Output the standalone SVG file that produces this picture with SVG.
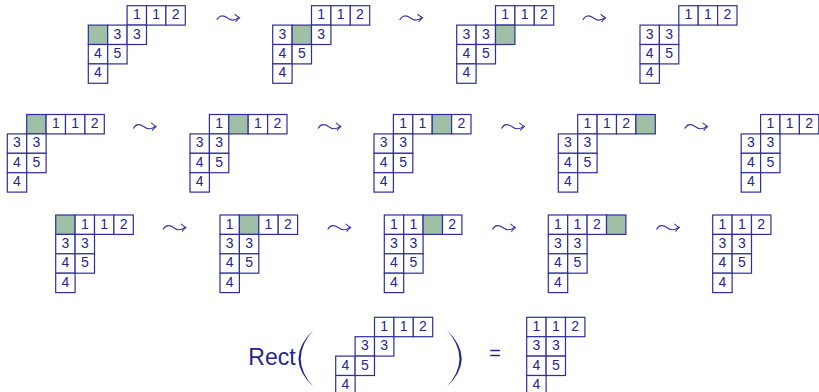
<svg xmlns="http://www.w3.org/2000/svg" xmlns:xlink="http://www.w3.org/1999/xlink" width="819" height="392" viewBox="0 0 819 392">
<style>
.c{fill:#ffffff;stroke:#2e2e9e;stroke-width:1.2}
.g{fill:#9fc0a6;stroke:#2e2e9e;stroke-width:1.2}
.d{font-family:"Liberation Sans",Arial,sans-serif;font-size:14px;fill:#26268f;text-anchor:middle}
.lt{fill:none;stroke:#3a3aa6;stroke-width:1.1;stroke-linecap:round;stroke-linejoin:round}
.big{font-family:"Liberation Sans",Arial,sans-serif;fill:#26268f}
</style>
<defs>
<g id="leadsto">
<path class="lt" d="M0,1.5 C2.5,-3 6.5,-3 10.5,0 S17.5,3.2 21.5,-0.3"/>
<path class="lt" d="M18,-3.5 Q20.5,-1.2 22.8,-0.3 Q20.5,0.8 19,3.6"/>
</g>
</defs>

<g id="connectors">
<use xlink:href="#leadsto" x="217" y="18"/>
<use xlink:href="#leadsto" x="400" y="18"/>
<use xlink:href="#leadsto" x="583" y="18"/>
<use xlink:href="#leadsto" x="133.5" y="126.7"/>
<use xlink:href="#leadsto" x="318.3" y="126.7"/>
<use xlink:href="#leadsto" x="501.7" y="126.7"/>
<use xlink:href="#leadsto" x="685" y="126.7"/>
<use xlink:href="#leadsto" x="163.3" y="227.7"/>
<use xlink:href="#leadsto" x="328" y="227.7"/>
<use xlink:href="#leadsto" x="492.7" y="227.7"/>
<use xlink:href="#leadsto" x="656.7" y="227.7"/>
</g>

<!-- Row 1 -->
<g id="t1" transform="translate(88.3,5.7)">
<rect class="c" x="38.8" y="0" width="19.4" height="19.4"/><rect class="c" x="58.2" y="0" width="19.4" height="19.4"/><rect class="c" x="77.6" y="0" width="19.4" height="19.4"/>
<rect class="g" x="0" y="19.4" width="19.4" height="19.4"/><rect class="c" x="19.4" y="19.4" width="19.4" height="19.4"/><rect class="c" x="38.8" y="19.4" width="19.4" height="19.4"/>
<rect class="c" x="0" y="38.8" width="19.4" height="19.4"/><rect class="c" x="19.4" y="38.8" width="19.4" height="19.4"/>
<rect class="c" x="0" y="58.2" width="19.4" height="19.4"/>
<text class="d" x="48.5" y="13.5">1</text><text class="d" x="67.9" y="13.5">1</text><text class="d" x="87.3" y="13.5">2</text>
<text class="d" x="29.1" y="32.9">3</text><text class="d" x="48.5" y="32.9">3</text>
<text class="d" x="9.7" y="52.3">4</text><text class="d" x="29.1" y="52.3">5</text>
<text class="d" x="9.7" y="71.7">4</text>
</g>
<g id="t2" transform="translate(272.7,5.7)">
<rect class="c" x="38.8" y="0" width="19.4" height="19.4"/><rect class="c" x="58.2" y="0" width="19.4" height="19.4"/><rect class="c" x="77.6" y="0" width="19.4" height="19.4"/>
<rect class="c" x="0" y="19.4" width="19.4" height="19.4"/><rect class="g" x="19.4" y="19.4" width="19.4" height="19.4"/><rect class="c" x="38.8" y="19.4" width="19.4" height="19.4"/>
<rect class="c" x="0" y="38.8" width="19.4" height="19.4"/><rect class="c" x="19.4" y="38.8" width="19.4" height="19.4"/>
<rect class="c" x="0" y="58.2" width="19.4" height="19.4"/>
<text class="d" x="48.5" y="13.5">1</text><text class="d" x="67.9" y="13.5">1</text><text class="d" x="87.3" y="13.5">2</text>
<text class="d" x="9.7" y="32.9">3</text><text class="d" x="48.5" y="32.9">3</text>
<text class="d" x="9.7" y="52.3">4</text><text class="d" x="29.1" y="52.3">5</text>
<text class="d" x="9.7" y="71.7">4</text>
</g>
<g id="t3" transform="translate(456.7,5.7)">
<rect class="c" x="38.8" y="0" width="19.4" height="19.4"/><rect class="c" x="58.2" y="0" width="19.4" height="19.4"/><rect class="c" x="77.6" y="0" width="19.4" height="19.4"/>
<rect class="c" x="0" y="19.4" width="19.4" height="19.4"/><rect class="c" x="19.4" y="19.4" width="19.4" height="19.4"/><rect class="g" x="38.8" y="19.4" width="19.4" height="19.4"/>
<rect class="c" x="0" y="38.8" width="19.4" height="19.4"/><rect class="c" x="19.4" y="38.8" width="19.4" height="19.4"/>
<rect class="c" x="0" y="58.2" width="19.4" height="19.4"/>
<text class="d" x="48.5" y="13.5">1</text><text class="d" x="67.9" y="13.5">1</text><text class="d" x="87.3" y="13.5">2</text>
<text class="d" x="9.7" y="32.9">3</text><text class="d" x="29.1" y="32.9">3</text>
<text class="d" x="9.7" y="52.3">4</text><text class="d" x="29.1" y="52.3">5</text>
<text class="d" x="9.7" y="71.7">4</text>
</g>
<g id="t4" transform="translate(640,5.7)">
<rect class="c" x="38.8" y="0" width="19.4" height="19.4"/><rect class="c" x="58.2" y="0" width="19.4" height="19.4"/><rect class="c" x="77.6" y="0" width="19.4" height="19.4"/>
<rect class="c" x="0" y="19.4" width="19.4" height="19.4"/><rect class="c" x="19.4" y="19.4" width="19.4" height="19.4"/>
<rect class="c" x="0" y="38.8" width="19.4" height="19.4"/><rect class="c" x="19.4" y="38.8" width="19.4" height="19.4"/>
<rect class="c" x="0" y="58.2" width="19.4" height="19.4"/>
<text class="d" x="48.5" y="13.5">1</text><text class="d" x="67.9" y="13.5">1</text><text class="d" x="87.3" y="13.5">2</text>
<text class="d" x="9.7" y="32.9">3</text><text class="d" x="29.1" y="32.9">3</text>
<text class="d" x="9.7" y="52.3">4</text><text class="d" x="29.1" y="52.3">5</text>
<text class="d" x="9.7" y="71.7">4</text>
</g>

<!-- Row 2 -->
<g id="t5" transform="translate(7.3,114.5)">
<rect class="g" x="19.4" y="0" width="19.4" height="19.4"/><rect class="c" x="38.8" y="0" width="19.4" height="19.4"/><rect class="c" x="58.2" y="0" width="19.4" height="19.4"/><rect class="c" x="77.6" y="0" width="19.4" height="19.4"/>
<rect class="c" x="0" y="19.4" width="19.4" height="19.4"/><rect class="c" x="19.4" y="19.4" width="19.4" height="19.4"/>
<rect class="c" x="0" y="38.8" width="19.4" height="19.4"/><rect class="c" x="19.4" y="38.8" width="19.4" height="19.4"/>
<rect class="c" x="0" y="58.2" width="19.4" height="19.4"/>
<text class="d" x="48.5" y="13.5">1</text><text class="d" x="67.9" y="13.5">1</text><text class="d" x="87.3" y="13.5">2</text>
<text class="d" x="9.7" y="32.9">3</text><text class="d" x="29.1" y="32.9">3</text>
<text class="d" x="9.7" y="52.3">4</text><text class="d" x="29.1" y="52.3">5</text>
<text class="d" x="9.7" y="71.7">4</text>
</g>
<g id="t6" transform="translate(190,114.5)">
<rect class="c" x="19.4" y="0" width="19.4" height="19.4"/><rect class="g" x="38.8" y="0" width="19.4" height="19.4"/><rect class="c" x="58.2" y="0" width="19.4" height="19.4"/><rect class="c" x="77.6" y="0" width="19.4" height="19.4"/>
<rect class="c" x="0" y="19.4" width="19.4" height="19.4"/><rect class="c" x="19.4" y="19.4" width="19.4" height="19.4"/>
<rect class="c" x="0" y="38.8" width="19.4" height="19.4"/><rect class="c" x="19.4" y="38.8" width="19.4" height="19.4"/>
<rect class="c" x="0" y="58.2" width="19.4" height="19.4"/>
<text class="d" x="29.1" y="13.5">1</text><text class="d" x="67.9" y="13.5">1</text><text class="d" x="87.3" y="13.5">2</text>
<text class="d" x="9.7" y="32.9">3</text><text class="d" x="29.1" y="32.9">3</text>
<text class="d" x="9.7" y="52.3">4</text><text class="d" x="29.1" y="52.3">5</text>
<text class="d" x="9.7" y="71.7">4</text>
</g>
<g id="t7" transform="translate(374,114.5)">
<rect class="c" x="19.4" y="0" width="19.4" height="19.4"/><rect class="c" x="38.8" y="0" width="19.4" height="19.4"/><rect class="g" x="58.2" y="0" width="19.4" height="19.4"/><rect class="c" x="77.6" y="0" width="19.4" height="19.4"/>
<rect class="c" x="0" y="19.4" width="19.4" height="19.4"/><rect class="c" x="19.4" y="19.4" width="19.4" height="19.4"/>
<rect class="c" x="0" y="38.8" width="19.4" height="19.4"/><rect class="c" x="19.4" y="38.8" width="19.4" height="19.4"/>
<rect class="c" x="0" y="58.2" width="19.4" height="19.4"/>
<text class="d" x="29.1" y="13.5">1</text><text class="d" x="48.5" y="13.5">1</text><text class="d" x="87.3" y="13.5">2</text>
<text class="d" x="9.7" y="32.9">3</text><text class="d" x="29.1" y="32.9">3</text>
<text class="d" x="9.7" y="52.3">4</text><text class="d" x="29.1" y="52.3">5</text>
<text class="d" x="9.7" y="71.7">4</text>
</g>
<g id="t8" transform="translate(558.3,114.5)">
<rect class="c" x="19.4" y="0" width="19.4" height="19.4"/><rect class="c" x="38.8" y="0" width="19.4" height="19.4"/><rect class="c" x="58.2" y="0" width="19.4" height="19.4"/><rect class="g" x="77.6" y="0" width="19.4" height="19.4"/>
<rect class="c" x="0" y="19.4" width="19.4" height="19.4"/><rect class="c" x="19.4" y="19.4" width="19.4" height="19.4"/>
<rect class="c" x="0" y="38.8" width="19.4" height="19.4"/><rect class="c" x="19.4" y="38.8" width="19.4" height="19.4"/>
<rect class="c" x="0" y="58.2" width="19.4" height="19.4"/>
<text class="d" x="29.1" y="13.5">1</text><text class="d" x="48.5" y="13.5">1</text><text class="d" x="67.9" y="13.5">2</text>
<text class="d" x="9.7" y="32.9">3</text><text class="d" x="29.1" y="32.9">3</text>
<text class="d" x="9.7" y="52.3">4</text><text class="d" x="29.1" y="52.3">5</text>
<text class="d" x="9.7" y="71.7">4</text>
</g>
<g id="t9" transform="translate(741.2,114.5)">
<rect class="c" x="19.4" y="0" width="19.4" height="19.4"/><rect class="c" x="38.8" y="0" width="19.4" height="19.4"/><rect class="c" x="58.2" y="0" width="19.4" height="19.4"/>
<rect class="c" x="0" y="19.4" width="19.4" height="19.4"/><rect class="c" x="19.4" y="19.4" width="19.4" height="19.4"/>
<rect class="c" x="0" y="38.8" width="19.4" height="19.4"/><rect class="c" x="19.4" y="38.8" width="19.4" height="19.4"/>
<rect class="c" x="0" y="58.2" width="19.4" height="19.4"/>
<text class="d" x="29.1" y="13.5">1</text><text class="d" x="48.5" y="13.5">1</text><text class="d" x="67.9" y="13.5">2</text>
<text class="d" x="9.7" y="32.9">3</text><text class="d" x="29.1" y="32.9">3</text>
<text class="d" x="9.7" y="52.3">4</text><text class="d" x="29.1" y="52.3">5</text>
<text class="d" x="9.7" y="71.7">4</text>
</g>

<!-- Row 3 -->
<g id="t10" transform="translate(55.7,215)">
<rect class="g" x="0" y="0" width="19.4" height="19.4"/><rect class="c" x="19.4" y="0" width="19.4" height="19.4"/><rect class="c" x="38.8" y="0" width="19.4" height="19.4"/><rect class="c" x="58.2" y="0" width="19.4" height="19.4"/>
<rect class="c" x="0" y="19.4" width="19.4" height="19.4"/><rect class="c" x="19.4" y="19.4" width="19.4" height="19.4"/>
<rect class="c" x="0" y="38.8" width="19.4" height="19.4"/><rect class="c" x="19.4" y="38.8" width="19.4" height="19.4"/>
<rect class="c" x="0" y="58.2" width="19.4" height="19.4"/>
<text class="d" x="29.1" y="13.5">1</text><text class="d" x="48.5" y="13.5">1</text><text class="d" x="67.9" y="13.5">2</text>
<text class="d" x="9.7" y="32.9">3</text><text class="d" x="29.1" y="32.9">3</text>
<text class="d" x="9.7" y="52.3">4</text><text class="d" x="29.1" y="52.3">5</text>
<text class="d" x="9.7" y="71.7">4</text>
</g>
<g id="t11" transform="translate(220,215)">
<rect class="c" x="0" y="0" width="19.4" height="19.4"/><rect class="g" x="19.4" y="0" width="19.4" height="19.4"/><rect class="c" x="38.8" y="0" width="19.4" height="19.4"/><rect class="c" x="58.2" y="0" width="19.4" height="19.4"/>
<rect class="c" x="0" y="19.4" width="19.4" height="19.4"/><rect class="c" x="19.4" y="19.4" width="19.4" height="19.4"/>
<rect class="c" x="0" y="38.8" width="19.4" height="19.4"/><rect class="c" x="19.4" y="38.8" width="19.4" height="19.4"/>
<rect class="c" x="0" y="58.2" width="19.4" height="19.4"/>
<text class="d" x="9.7" y="13.5">1</text><text class="d" x="48.5" y="13.5">1</text><text class="d" x="67.9" y="13.5">2</text>
<text class="d" x="9.7" y="32.9">3</text><text class="d" x="29.1" y="32.9">3</text>
<text class="d" x="9.7" y="52.3">4</text><text class="d" x="29.1" y="52.3">5</text>
<text class="d" x="9.7" y="71.7">4</text>
</g>
<g id="t12" transform="translate(384.3,215)">
<rect class="c" x="0" y="0" width="19.4" height="19.4"/><rect class="c" x="19.4" y="0" width="19.4" height="19.4"/><rect class="g" x="38.8" y="0" width="19.4" height="19.4"/><rect class="c" x="58.2" y="0" width="19.4" height="19.4"/>
<rect class="c" x="0" y="19.4" width="19.4" height="19.4"/><rect class="c" x="19.4" y="19.4" width="19.4" height="19.4"/>
<rect class="c" x="0" y="38.8" width="19.4" height="19.4"/><rect class="c" x="19.4" y="38.8" width="19.4" height="19.4"/>
<rect class="c" x="0" y="58.2" width="19.4" height="19.4"/>
<text class="d" x="9.7" y="13.5">1</text><text class="d" x="29.1" y="13.5">1</text><text class="d" x="67.9" y="13.5">2</text>
<text class="d" x="9.7" y="32.9">3</text><text class="d" x="29.1" y="32.9">3</text>
<text class="d" x="9.7" y="52.3">4</text><text class="d" x="29.1" y="52.3">5</text>
<text class="d" x="9.7" y="71.7">4</text>
</g>
<g id="t13" transform="translate(548.3,215)">
<rect class="c" x="0" y="0" width="19.4" height="19.4"/><rect class="c" x="19.4" y="0" width="19.4" height="19.4"/><rect class="c" x="38.8" y="0" width="19.4" height="19.4"/><rect class="g" x="58.2" y="0" width="19.4" height="19.4"/>
<rect class="c" x="0" y="19.4" width="19.4" height="19.4"/><rect class="c" x="19.4" y="19.4" width="19.4" height="19.4"/>
<rect class="c" x="0" y="38.8" width="19.4" height="19.4"/><rect class="c" x="19.4" y="38.8" width="19.4" height="19.4"/>
<rect class="c" x="0" y="58.2" width="19.4" height="19.4"/>
<text class="d" x="9.7" y="13.5">1</text><text class="d" x="29.1" y="13.5">1</text><text class="d" x="48.5" y="13.5">2</text>
<text class="d" x="9.7" y="32.9">3</text><text class="d" x="29.1" y="32.9">3</text>
<text class="d" x="9.7" y="52.3">4</text><text class="d" x="29.1" y="52.3">5</text>
<text class="d" x="9.7" y="71.7">4</text>
</g>
<g id="t14" transform="translate(712.7,215)">
<rect class="c" x="0" y="0" width="19.4" height="19.4"/><rect class="c" x="19.4" y="0" width="19.4" height="19.4"/><rect class="c" x="38.8" y="0" width="19.4" height="19.4"/>
<rect class="c" x="0" y="19.4" width="19.4" height="19.4"/><rect class="c" x="19.4" y="19.4" width="19.4" height="19.4"/>
<rect class="c" x="0" y="38.8" width="19.4" height="19.4"/><rect class="c" x="19.4" y="38.8" width="19.4" height="19.4"/>
<rect class="c" x="0" y="58.2" width="19.4" height="19.4"/>
<text class="d" x="9.7" y="13.5">1</text><text class="d" x="29.1" y="13.5">1</text><text class="d" x="48.5" y="13.5">2</text>
<text class="d" x="9.7" y="32.9">3</text><text class="d" x="29.1" y="32.9">3</text>
<text class="d" x="9.7" y="52.3">4</text><text class="d" x="29.1" y="52.3">5</text>
<text class="d" x="9.7" y="71.7">4</text>
</g>

<!-- Row 4: Rect( ... ) = ... -->
<g id="rect-label">
<text class="big" x="248.3" y="365" font-size="23">Rect</text>
<path fill="#26268f" d="M313.5,330 Q283.5,358.5 313.5,387 Q288,358.5 313.5,330 Z"/>
<path fill="#26268f" d="M446.7,330 Q476.7,358.5 446.7,387 Q472.2,358.5 446.7,330 Z"/>
<text class="big" x="495" y="360" font-size="20" text-anchor="middle">=</text>
</g>
<g id="t15" transform="translate(335.7,317.3)">
<rect class="c" x="38.8" y="0" width="19.4" height="19.4"/><rect class="c" x="58.2" y="0" width="19.4" height="19.4"/><rect class="c" x="77.6" y="0" width="19.4" height="19.4"/>
<rect class="c" x="19.4" y="19.4" width="19.4" height="19.4"/><rect class="c" x="38.8" y="19.4" width="19.4" height="19.4"/>
<rect class="c" x="0" y="38.8" width="19.4" height="19.4"/><rect class="c" x="19.4" y="38.8" width="19.4" height="19.4"/>
<rect class="c" x="0" y="58.2" width="19.4" height="19.4"/>
<text class="d" x="48.5" y="13.5">1</text><text class="d" x="67.9" y="13.5">1</text><text class="d" x="87.3" y="13.5">2</text>
<text class="d" x="29.1" y="32.9">3</text><text class="d" x="48.5" y="32.9">3</text>
<text class="d" x="9.7" y="52.3">4</text><text class="d" x="29.1" y="52.3">5</text>
<text class="d" x="9.7" y="71.7">4</text>
</g>
<g id="t16" transform="translate(526.7,317.3)">
<rect class="c" x="0" y="0" width="19.4" height="19.4"/><rect class="c" x="19.4" y="0" width="19.4" height="19.4"/><rect class="c" x="38.8" y="0" width="19.4" height="19.4"/>
<rect class="c" x="0" y="19.4" width="19.4" height="19.4"/><rect class="c" x="19.4" y="19.4" width="19.4" height="19.4"/>
<rect class="c" x="0" y="38.8" width="19.4" height="19.4"/><rect class="c" x="19.4" y="38.8" width="19.4" height="19.4"/>
<rect class="c" x="0" y="58.2" width="19.4" height="19.4"/>
<text class="d" x="9.7" y="13.5">1</text><text class="d" x="29.1" y="13.5">1</text><text class="d" x="48.5" y="13.5">2</text>
<text class="d" x="9.7" y="32.9">3</text><text class="d" x="29.1" y="32.9">3</text>
<text class="d" x="9.7" y="52.3">4</text><text class="d" x="29.1" y="52.3">5</text>
<text class="d" x="9.7" y="71.7">4</text>
</g>
</svg>
